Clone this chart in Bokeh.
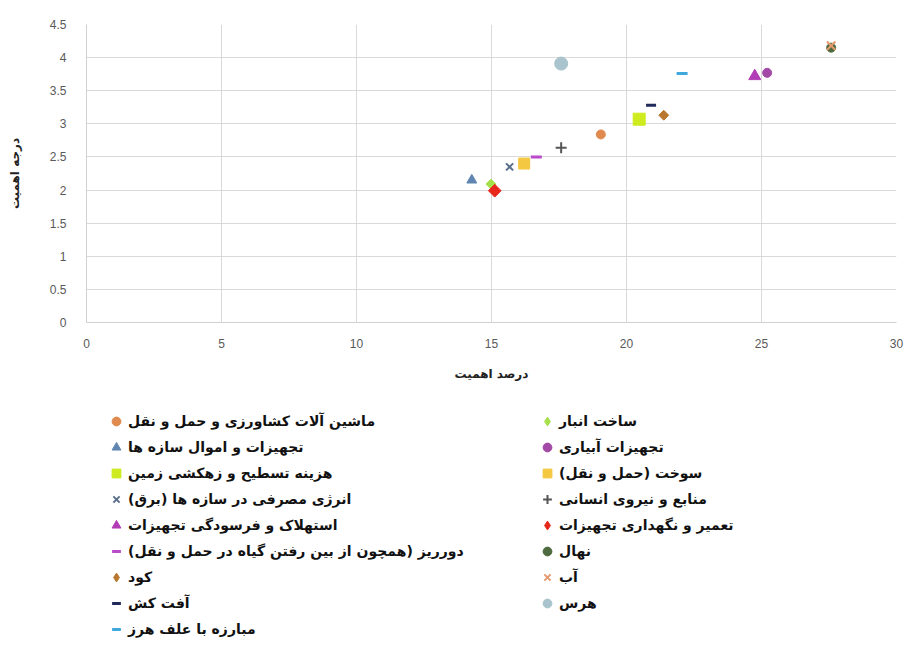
import math
from bokeh.plotting import figure
from bokeh.layouts import column
from bokeh.models import Legend, LegendItem, Range1d, FixedTicker
from bokeh.embed import file_html
from bokeh.resources import INLINE

RLM = "\u200f"

# Cost items, in series order
series_names = [
    "ماشین آلات کشاورزی و حمل و نقل",
    "ساخت انبار",
    "تجهیزات و اموال سازه ها",
    "تجهیزات آبیاری",
    "هزینه تسطیح و زهکشی زمین",
    "سوخت (حمل و نقل)" + RLM,
    "انرژی مصرفی در سازه ها (برق)" + RLM,
    "منابع و نیروی انسانی",
    "استهلاک و فرسودگی تجهیزات",
    "تعمیر و نگهداری تجهیزات",
    "دورریز (همچون از بین رفتن گیاه در حمل و نقل)" + RLM,
    "نهال",
    "کود",
    "آب",
    "آفت کش",
    "هرس",
    "مبارزه با علف هرز",
]

# درصد اهمیت (x) and درجه اهمیت (y) of each item
pct_importance = [19.05, 14.98, 14.27, 25.21, 20.47, 16.21, 15.67, 17.58, 24.75,
                  15.12, 16.66, 27.58, 21.38, 27.58, 20.91, 17.58, 22.06]
degree_importance = [2.84, 2.09, 2.15, 3.77, 3.07, 2.40, 2.35, 2.64, 3.72,
                     1.99, 2.50, 4.15, 3.13, 4.18, 3.28, 3.91, 3.76]

x_ticks = [0, 5, 10, 15, 20, 25, 30]
y_ticks = [0, 0.5, 1, 1.5, 2, 2.5, 3, 3.5, 4, 4.5]

# marker style per series ("rhomb" = square turned by 45 degrees)
marker_types = ["circle", "rhomb", "triangle", "circle", "square", "square", "x",
                "cross", "triangle", "rhomb", "dash", "circle", "rhomb", "x",
                "dash", "circle", "dash"]
marker_colors = ["#e08a4f", "#a6e04a", "#5f86b0", "#a24aa6", "#cdeb1f", "#f5c842",
                 "#5a6f8c", "#555555", "#b23cb5", "#e8281c", "#b94bc9", "#4e6b3f",
                 "#b9772f", "#e59a6e", "#1f2a5a", "#a9c4cc", "#40a8dc"]
marker_sizes = [9, 7, 10, 9, 12, 11, 10, 11, 12, 9, 11, 9, 7, 12, 10, 13, 11]


def marker_style(i, swatch=False):
    kind = marker_types[i]
    lw = 3 if kind == "dash" else (2 if kind in ("x", "cross") else 1)
    if kind == "rhomb":
        # legend swatches ignore angles, so they get the diamond marker
        marker, angle = ("diamond", 0) if swatch else ("square", math.pi / 4)
    else:
        marker, angle = kind, 0
    return dict(marker=marker, angle=angle, size=marker_sizes[i],
                fill_color=marker_colors[i], line_color=marker_colors[i],
                line_width=lw)


p = figure(width=907, height=395, output_backend="svg", toolbar_location=None,
           x_range=Range1d(0, 30), y_range=Range1d(0, 4.5),
           min_border_left=86, min_border_right=11, min_border_top=24,
           min_border_bottom=73)
p.outline_line_color = None
p.background_fill_color = "white"
p.border_fill_color = "white"

for i in range(len(series_names)):
    p.scatter([pct_importance[i]], [degree_importance[i]], **marker_style(i))

tick_font = "Liberation Sans"
persian_font = "DejaVu Sans"

for ax in (p.xaxis[0], p.yaxis[0]):
    ax.axis_line_color = "#d0d0d0"
    ax.major_tick_line_color = None
    ax.minor_tick_line_color = None
    ax.major_label_text_color = "#595959"
    ax.major_label_text_font = tick_font
    ax.major_label_text_font_size = "12px"
    ax.axis_label_text_font = persian_font
    ax.axis_label_text_font_style = "bold"
    ax.axis_label_text_font_size = "12px"
    ax.axis_label_text_color = "#222222"

p.xaxis.ticker = FixedTicker(ticks=x_ticks)
p.yaxis.ticker = FixedTicker(ticks=y_ticks)
p.xaxis.major_label_standoff = 10
p.yaxis.major_label_standoff = 14
p.xaxis.axis_label = "درصد اهمیت"
p.yaxis.axis_label = "درجه اهمیت"
p.xaxis.axis_label_standoff = 16
p.yaxis.axis_label_standoff = 25

p.xgrid.grid_line_color = "#d9d9d9"
p.ygrid.grid_line_color = "#d9d9d9"

# legend panel underneath; its swatch renderers reuse each series' style and
# data, which lie outside this panel's unit ranges so only the legend shows
leg = figure(width=907, height=258, output_backend="svg", toolbar_location=None,
             x_range=Range1d(0, 1), y_range=Range1d(0, 1),
             min_border_left=0, min_border_right=0, min_border_top=0,
             min_border_bottom=0)
leg.axis.visible = False
leg.grid.visible = False
leg.outline_line_color = None
leg.border_fill_color = "white"

swatches = [leg.scatter([pct_importance[i]], [degree_importance[i]],
                        **marker_style(i, swatch=True))
            for i in range(len(series_names))]

# two columns: odd series on the left, even on the right
legend_order = list(range(0, 17, 2)) + list(range(1, 17, 2))
items = [LegendItem(label=series_names[i], renderers=[swatches[i]]) for i in legend_order]
legend = Legend(items=items, location=(19, 11), orientation="vertical",
                nrows=9, ncols=2,
                glyph_width=22, glyph_height=22, label_height=26, label_width=408,
                label_standoff=1, spacing=0, padding=0, margin=0,
                label_text_font=persian_font, label_text_font_size="14px",
                label_text_font_style="bold",
                label_text_color="#111111",
                background_fill_alpha=0, border_line_alpha=0)
leg.add_layout(legend, "center")

open("out.html", "w").write(file_html(column(p, leg, spacing=0), INLINE))
